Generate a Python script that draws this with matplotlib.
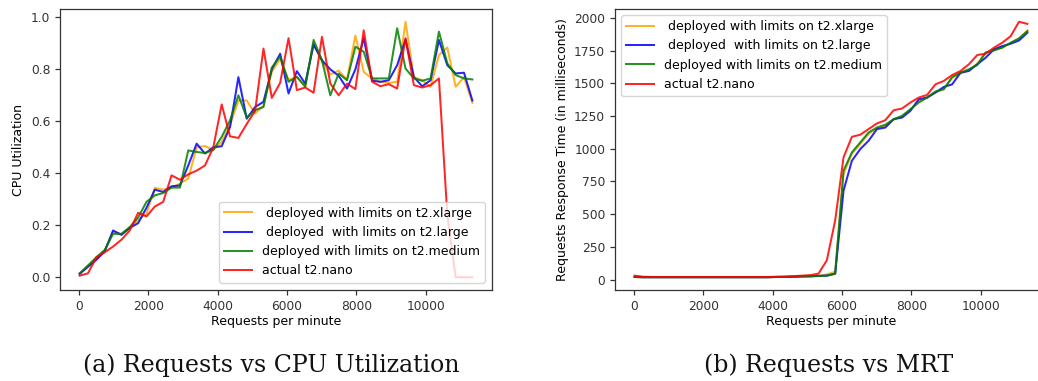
import matplotlib
matplotlib.use("Agg")
import matplotlib.pyplot as plt

# Requests per minute (shared x values)
requests = [20, 261, 502, 743, 984, 1225, 1466, 1707, 1948, 2189, 2430, 2671,
            2912, 3153, 3394, 3635, 3876, 4117, 4358, 4599, 4840, 5081, 5322, 5563,
            5804, 6045, 6286, 6527, 6768, 7009, 7250, 7491, 7732, 7973, 8214, 8455,
            8696, 8937, 9178, 9419, 9660, 9901, 10142, 10383, 10624, 10865, 11106, 11347]

labels = [" deployed with limits on t2.xlarge",
          " deployed  with limits on t2.large",
          "deployed with limits on t2.medium",
          "actual t2.nano"]
colors = ["orange", "blue", "green", "red"]

# CPU utilization
cpu_xlarge = [0.013, 0.045, 0.07, 0.10, 0.175, 0.165, 0.19, 0.22, 0.244, 0.344, 0.337, 0.345,
              0.36, 0.38, 0.50, 0.505, 0.49, 0.52, 0.585, 0.68, 0.68, 0.63, 0.66, 0.79,
              0.84, 0.76, 0.77, 0.735, 0.90, 0.83, 0.78, 0.795, 0.76, 0.93, 0.79, 0.765,
              0.752, 0.748, 0.752, 0.983, 0.77, 0.758, 0.733, 0.855, 0.884, 0.733, 0.77, 0.671]
cpu_large = [0.013, 0.04, 0.067, 0.10, 0.18, 0.163, 0.19, 0.208, 0.267, 0.337, 0.328, 0.35,
             0.353, 0.43, 0.514, 0.476, 0.50, 0.504, 0.578, 0.77, 0.61, 0.655, 0.675, 0.80,
             0.86, 0.707, 0.793, 0.745, 0.895, 0.835, 0.80, 0.775, 0.726, 0.80, 0.92, 0.756,
             0.752, 0.758, 0.816, 0.915, 0.77, 0.735, 0.758, 0.913, 0.816, 0.784, 0.787, 0.68]
cpu_medium = [0.015, 0.045, 0.077, 0.105, 0.167, 0.167, 0.193, 0.23, 0.29, 0.315, 0.324, 0.345,
              0.345, 0.488, 0.482, 0.478, 0.49, 0.54, 0.604, 0.70, 0.614, 0.643, 0.655, 0.807,
              0.85, 0.752, 0.771, 0.733, 0.913, 0.835, 0.70, 0.784, 0.758, 0.887, 0.868, 0.765,
              0.765, 0.765, 0.958, 0.803, 0.765, 0.756, 0.765, 0.945, 0.823, 0.778, 0.765, 0.761]
cpu_nano = [0.006, 0.015, 0.077, 0.096, 0.118, 0.144, 0.18, 0.248, 0.234, 0.272, 0.29, 0.392,
            0.375, 0.396, 0.41, 0.43, 0.50, 0.665, 0.542, 0.536, 0.59, 0.64, 0.88, 0.69,
            0.748, 0.92, 0.72, 0.73, 0.71, 0.925, 0.745, 0.70, 0.745, 0.724, 0.95, 0.752,
            0.735, 0.743, 0.726, 0.92, 0.739, 0.73, 0.739, 0.765, 0.24, 0.0, 0.0, 0.0]

# Mean response time (ms)
mrt_xlarge = [20, 18, 18, 18, 18, 18, 18, 18, 18, 18, 18, 18,
              18, 18, 18, 18, 18, 20, 20, 22, 24, 25, 28, 40,
              60, 807, 960, 1036, 1112, 1157, 1175, 1222, 1245, 1298, 1365, 1388,
              1430, 1458, 1540, 1575, 1600, 1650, 1735, 1755, 1775, 1808, 1840, 1904]
mrt_large = [20, 18, 18, 18, 18, 18, 18, 18, 18, 18, 18, 18,
             18, 18, 18, 18, 18, 20, 20, 22, 24, 25, 28, 30,
             45, 680, 908, 997, 1061, 1150, 1162, 1226, 1238, 1289, 1378, 1391,
             1429, 1472, 1492, 1581, 1594, 1645, 1695, 1759, 1784, 1802, 1827, 1886]
mrt_medium = [20, 18, 18, 18, 18, 18, 18, 18, 18, 18, 18, 18,
              18, 18, 18, 18, 18, 20, 20, 22, 24, 25, 28, 30,
              45, 832, 972, 1048, 1124, 1162, 1183, 1226, 1251, 1302, 1353, 1391,
              1437, 1454, 1548, 1581, 1607, 1640, 1734, 1751, 1772, 1810, 1843, 1898]
mrt_nano = [30, 22, 20, 20, 20, 20, 20, 20, 20, 20, 20, 20,
            20, 20, 20, 20, 20, 22, 24, 26, 30, 34, 45, 147,
            452, 934, 1091, 1107, 1150, 1193, 1218, 1294, 1307, 1353, 1391, 1411,
            1492, 1518, 1563, 1594, 1645, 1716, 1726, 1772, 1810, 1860, 1970, 1954]

W, H = 1038, 381
fig = plt.figure(figsize=(W / 100, H / 100), dpi=100)
plt.rcParams['font.family'] = ['DejaVu Sans']

lw = 1.45
tick_fs = 8.8
lab_fs = 9

def style(ax):
    for s in ax.spines.values():
        s.set_linewidth(0.9)
        s.set_color('#333333')
    ax.tick_params(labelsize=tick_fs, length=3.5, width=0.9, colors='#333333')

axL = fig.add_axes([60 / W, (H - 290) / H, 432 / W, 281 / H])
for y, c, l in zip([cpu_xlarge, cpu_large, cpu_medium, cpu_nano], colors, labels):
    axL.plot(requests, y, color=c, lw=lw, alpha=0.85, label=l)
axL.set_xlabel("Requests per minute", fontsize=lab_fs, labelpad=2)
axL.set_ylabel("CPU Utilization", fontsize=lab_fs)
axL.set_yticks([0.0, 0.2, 0.4, 0.6, 0.8, 1.0])
axL.set_xticks([0, 2000, 4000, 6000, 8000, 10000])
style(axL)
axL.legend(loc='lower right', fontsize=lab_fs, handlelength=2.2, borderaxespad=0.6)

axR = fig.add_axes([615 / W, (H - 290) / H, 432 / W, 281 / H])
for y, c, l in zip([mrt_xlarge, mrt_large, mrt_medium, mrt_nano], colors, labels):
    axR.plot(requests, y, color=c, lw=lw, alpha=0.85, label=l)
axR.set_xlabel("Requests per minute", fontsize=lab_fs, labelpad=2)
axR.set_ylabel("Requests Response Time (in milliseconds)", fontsize=lab_fs)
axR.set_yticks([0, 250, 500, 750, 1000, 1250, 1500, 1750, 2000])
axR.set_xticks([0, 2000, 4000, 6000, 8000, 10000])
style(axR)
axR.legend(loc='upper left', fontsize=lab_fs, handlelength=2.2, borderaxespad=0.5)

fig.text(271 / W, (H - 371.7) / H, "(a) Requests vs CPU Utilization", ha='center',
         va='baseline', fontsize=17, family='DejaVu Serif', color='#111111')
fig.text(829 / W, (H - 371.7) / H, "(b) Requests vs MRT", ha='center',
         va='baseline', fontsize=17, family='DejaVu Serif', color='#111111')

fig.savefig("out.png", dpi=100)
